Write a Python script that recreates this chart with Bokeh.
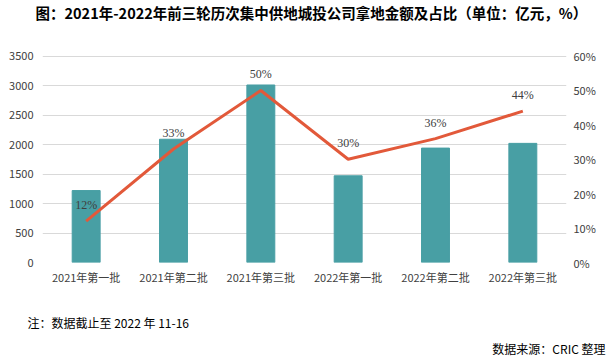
from bokeh.plotting import figure
from bokeh.models import Range1d, LinearAxis, FactorRange, Title, ColumnDataSource, LabelSet, NumeralTickFormatter, FixedTicker
from bokeh.embed import file_html
from bokeh.resources import INLINE

categories = ["2021年第一批", "2021年第二批", "2021年第三批", "2022年第一批", "2022年第二批", "2022年第三批"]
amounts = [1220, 2090, 3010, 1470, 1940, 2020]
shares = [0.12, 0.33, 0.50, 0.30, 0.36, 0.44]
share_labels = ["12%", "33%", "50%", "30%", "36%", "44%"]
left_ticks = [0, 500, 1000, 1500, 2000, 2500, 3000, 3500]
right_ticks = [0, 0.1, 0.2, 0.3, 0.4, 0.5, 0.6]

title_text = "图：2021年-2022年前三轮历次集中供地城投公司拿地金额及占比（单位：亿元，%）"
note_text = "注：数据截止至 2022 年 11-16"
source_text = "数据来源：CRIC 整理"

FONT = "Noto Sans CJK SC"

# layout (pixels): frame extends above the top gridline to leave room for the title
FRAME_TOP = 20
GRID_TOP = 53
FRAME_BOTTOM = 262
stretch = (FRAME_BOTTOM - FRAME_TOP) / (FRAME_BOTTOM - GRID_TOP)

src = ColumnDataSource(dict(cat=categories, amt=amounts, share=shares, lab=share_labels))

p = figure(width=614, height=361, x_range=FactorRange(*categories, range_padding=0),
           y_range=Range1d(0, left_ticks[-1] * stretch), output_backend="svg", toolbar_location=None,
           min_border_left=42, min_border_right=48, min_border_top=FRAME_TOP,
           min_border_bottom=361 - FRAME_BOTTOM)
p.outline_line_color = None
p.background_fill_color = "white"
p.border_fill_color = "white"

p.extra_y_ranges = {"pct": Range1d(0, right_ticks[-1] * stretch)}

p.vbar(x="cat", top="amt", width=0.32, source=src, color="#489FA4")
p.line(x="cat", y="share", source=src, y_range_name="pct", line_color="#E2593A", line_width=3)

labels = LabelSet(x="cat", y="share", text="lab", source=src, y_range_name="pct",
                  y_offset=16, text_align="center", text_baseline="middle",
                  text_font=FONT, text_font_size="12px", text_color="#404040")
p.add_layout(labels)

# axes
p.yaxis.ticker = FixedTicker(ticks=left_ticks)
ra = LinearAxis(y_range_name="pct", ticker=FixedTicker(ticks=right_ticks),
                formatter=NumeralTickFormatter(format="0%"))
p.add_layout(ra, "right")
for ax in [p.yaxis[0], p.xaxis[0], ra]:
    ax.axis_line_color = None
    ax.major_tick_line_color = None
    ax.minor_tick_line_color = None
    ax.major_tick_out = 0
    ax.major_tick_in = 0
    ax.minor_tick_out = 0
    ax.minor_tick_in = 0
    ax.major_label_text_font = FONT
    ax.major_label_text_font_size = "11px"
    ax.major_label_text_color = "#404040"
p.yaxis[0].major_label_standoff = 9
ra.major_label_standoff = 7
p.xaxis.major_label_standoff = 6

p.xgrid.grid_line_color = None
p.ygrid.grid_line_color = "#D9D9D9"
p.ygrid.grid_line_width = 1

# title and notes
p.title.text = title_text
p.title.align = "left"
p.title.offset = -7
p.title.standoff = 0
p.title.vertical_align = "middle"
p.title.text_font = FONT
p.title.text_font_size = "14.5px"
p.title.text_font_style = "bold"
p.title.text_color = "#000000"

note = Title(text=note_text, align="left", offset=-15, standoff=50, vertical_align="middle",
             text_font=FONT, text_font_size="12px", text_font_style="normal", text_color="#000000")
p.add_layout(note, "below")
source = Title(text=source_text, align="right", offset=-39, standoff=-34, vertical_align="top",
               text_font=FONT, text_font_size="12px", text_font_style="normal", text_color="#000000")
p.add_layout(source, "below")

open("out.html", "w").write(file_html(p, INLINE))
